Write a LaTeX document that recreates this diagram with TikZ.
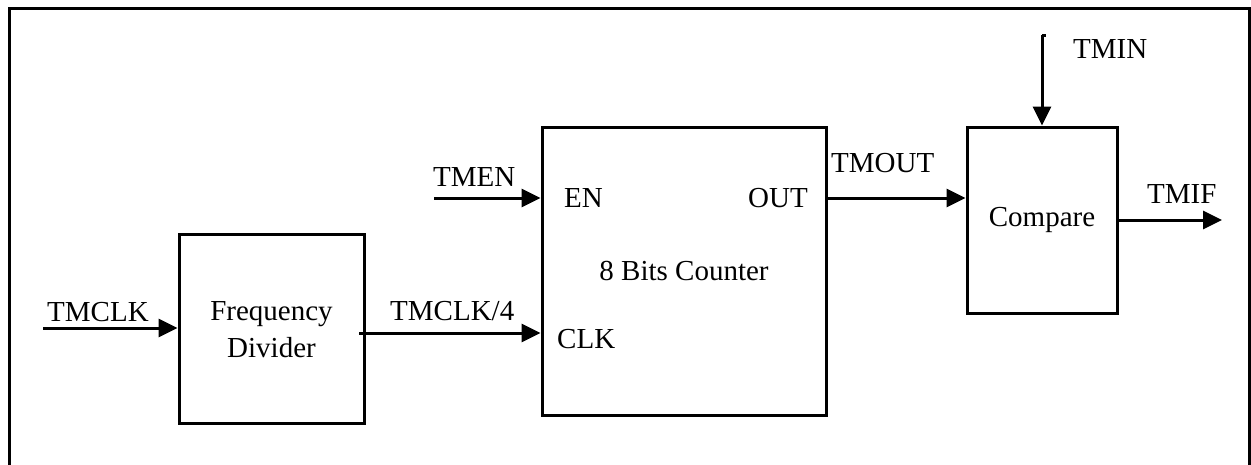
\documentclass[tikz,border=0pt]{standalone}
\usepackage{fontspec}
\setmainfont{Liberation Serif}
\usetikzlibrary{arrows.meta}
\begin{document}
\begin{tikzpicture}[x=1pt,y=-1pt,
  blk/.style={draw,line width=3pt,inner sep=0pt},
  lbl/.style={inner sep=0pt,font=\fontsize{29}{37}\selectfont},
  sig/.style={line width=3pt,-{Triangle[length=19pt,width=18pt]}},
  wire/.style={line width=3pt}]
\useasboundingbox (0,0) rectangle (1251,464);
\draw[line width=3pt] (9,470) -- (9,8) -- (1249,8) -- (1249,470);
% blocks
\node[blk,minimum width=185pt,minimum height=189pt] (fd) at (271.5,328.5) {};
\node[lbl,align=center] (fdt) at (271.5,330) {Frequency\\Divider};
\node[blk,minimum width=284pt,minimum height=288pt] (cnt) at (684,271) {};
\node[lbl] (cntt) at (684,271) {8 Bits Counter};
\node[blk,minimum width=150pt,minimum height=186pt] (cmp) at (1042,220) {};
\node[lbl] (cmpt) at (1042,220) {Compare};
% port labels
\node[lbl,anchor=base west] (en) at (564,207) {EN};
\node[lbl,anchor=base east] (out) at (808,207) {OUT};
\node[lbl,anchor=base west] (clk) at (557,348) {CLK};
% coordinates
\coordinate (tmclkS) at (43,328);
\coordinate (fdIn) at (fd.west |- tmclkS);
\coordinate (fdOut) at (359,333);
\coordinate (cntClk) at (cnt.west |- fdOut);
\coordinate (tmenS) at (434,198);
\coordinate (cntEn) at (cnt.west |- tmenS);
\coordinate (cntOut) at (cnt.east |- tmenS);
\coordinate (cmpIn) at (cmp.west |- tmenS);
\coordinate (tminS) at (1042,35);
\coordinate (tminT) at (1045.5,35);
\coordinate (cmpOut) at (cmp.east);
\coordinate (tmifE) at (1222,220);
% connectors
\draw[sig] (tmclkS) -- (fdIn);
\draw[sig] (fdOut) -- (cntClk);
\draw[sig] (tmenS) -- (cntEn);
\draw[sig] (cntOut) -- (cmpIn);
\draw[sig] (tminS) -- (cmp.north);
\draw[wire] (tminS) -- (tminT);
\draw[sig] (cmpOut) -- (tmifE);
% signal labels
\node[lbl,anchor=base west] (l1) at (47,321) {TMCLK};
\node[lbl,anchor=base west] (l2) at (390,320) {TMCLK/4};
\node[lbl,anchor=base west] (l3) at (433,186) {TMEN};
\node[lbl,anchor=base west] (l4) at (831,172) {TMOUT};
\node[lbl,anchor=base west] (l5) at (1073,58) {TMIN};
\node[lbl,anchor=base west] (l6) at (1147,203) {TMIF};
\end{tikzpicture}
\end{document}
